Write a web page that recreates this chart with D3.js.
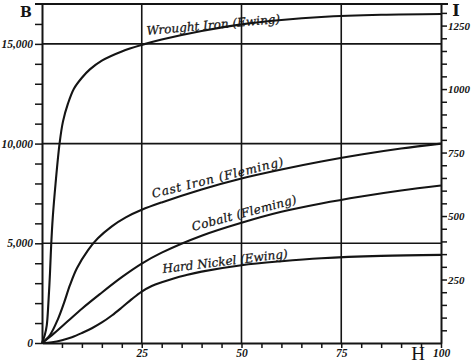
<!DOCTYPE html>
<html><head><meta charset="utf-8">
<script src="https://cdn.jsdelivr.net/npm/d3@7"></script>
<style>
html,body{margin:0;padding:0;background:#fff;}
svg{display:block;}
.tick text{font-family:"Liberation Serif",serif;font-weight:bold;font-style:italic;}
</style>
</head><body>
<svg id="c" width="474" height="364"></svg>
<script>
// ---- data (H in gilberts/cm, B in lines/cm²) ----
const wroughtIron = [[0,0],[0.7,400],[1.2,900],[1.6,2000],[2.0,3500],[2.3,4900],[2.7,6300],[3.4,8000],[4.4,10000],[5.25,11100],[6.5,12000],[8,12750],[10,13300],[12,13720],[15,14160],[20,14620],[25,14950],[30,15220],[40,15650],[50,15980],[60,16200],[70,16350],[85,16460],[100,16500]];
const castIron = [[0,0],[2,400],[4,1200],[5.5,2000],[7,2900],[8.75,3750],[11.5,4650],[14,5250],[17.5,5850],[21,6300],[25,6680],[30,7050],[40,7700],[50,8250],[60,8700],[70,9100],[80,9450],[90,9750],[100,10000]];
const cobalt = [[0,0],[3,480],[6.5,1100],[10,1720],[14.5,2450],[20,3300],[25,3980],[30,4530],[40,5380],[50,6030],[60,6580],[70,7000],[80,7350],[90,7650],[100,7900]];
const hardNickel = [[0,0],[2.5,40],[5,140],[7.5,290],[10,500],[12.5,740],[15,1030],[17.5,1380],[20,1780],[22.5,2200],[25,2580],[27.5,2860],[30,3050],[33,3240],[36,3400],[40,3580],[50,3900],[60,4100],[70,4250],[85,4370],[100,4420]];
const seriesNames = ["Wrought Iron (Ewing)","Cast Iron (Fleming)","Cobalt (Fleming)","Hard Nickel (Ewing)"];
const hTickLabels = [25,50,75,100];
const bTickLabels = [0,5000,10000,15000];
const iTickLabels = [250,500,750,1000,1250];
const hGrid = [25,50,75];
const bGrid = [5000,10000,15000];

const ink = "#141414";
const svg = d3.select("#c");
const L=42, R=441, T=4, Bt=343;
const x = d3.scaleLinear().domain([0,100]).range([L,R]);
const y = d3.scaleLinear().domain([0,17000]).range([Bt,T]);
const yI = d3.scaleLinear().domain([0,1335]).range([Bt,T]);

// grid
const g = svg.append("g").attr("stroke",ink).attr("stroke-width",1.6);
hGrid.forEach(v=>g.append("line").attr("x1",x(v)).attr("x2",x(v)).attr("y1",T).attr("y2",Bt));
bGrid.forEach(v=>g.append("line").attr("x1",L).attr("x2",R).attr("y1",y(v)).attr("y2",y(v)));
g.append("line").attr("x1",L-7).attr("x2",R+7).attr("y1",T).attr("y2",T).attr("stroke-width",1.8);

// axes
function styleAxis(sel){
  sel.select(".domain").attr("stroke",ink).attr("stroke-width",2);
  sel.selectAll(".tick line").attr("stroke",ink).attr("stroke-width",1.5);
  sel.selectAll(".tick text").attr("fill",ink);
}
const axL = d3.axisLeft(y).tickValues(d3.range(0,17000,1000)).tickSize(7).tickSizeOuter(0)
  .tickFormat(d=>bTickLabels.includes(d)?d3.format(",")(d):"");
svg.append("g").attr("transform",`translate(${L},0)`).call(axL).call(styleAxis)
  .selectAll(".tick text").attr("font-size",11.5).attr("dx",1);
const axB = d3.axisBottom(x).tickValues(d3.range(5,101,5)).tickSize(5).tickSizeOuter(0)
  .tickFormat(d=>hTickLabels.includes(d)?d:"");
svg.append("g").attr("transform",`translate(0,${Bt})`).call(axB).call(styleAxis)
  .selectAll(".tick text").attr("font-size",11.5).attr("dy","0.55em");
const axR = d3.axisRight(yI).tickValues(d3.range(50,1335,50)).tickSize(6).tickSizeOuter(0)
  .tickFormat(d=>iTickLabels.includes(d)?d:"");
svg.append("g").attr("transform",`translate(${R},0)`).call(axR).call(styleAxis)
  .selectAll(".tick text").attr("font-size",11).attr("dx",-2);

// curves
const line = d3.line().x(d=>x(d[0])).y(d=>y(d[1])).curve(d3.curveCatmullRom.alpha(0.5));
[wroughtIron,castIron,cobalt,hardNickel].forEach(s=>{
  svg.append("path").attr("d",line(s)).attr("fill","none").attr("stroke",ink).attr("stroke-width",2.1);
});

// curve labels
const labelPos = [[147,35,-5.2,134],[153,198,-14,135],[193,231,-15,108],[163,273,-7,126]];
seriesNames.forEach((n,i)=>{
  const p = labelPos[i];
  svg.append("text").attr("transform",`translate(${p[0]},${p[1]}) rotate(${p[2]})`)
    .attr("font-family","DejaVu Serif, serif").attr("font-style","italic").attr("font-size",12)
    .attr("textLength",p[3]).attr("lengthAdjust","spacing")
    .attr("fill",ink).attr("stroke",ink).attr("stroke-width",0.25).text(n);
});

// axis titles
svg.append("text").attr("x",26).attr("y",17).attr("text-anchor","middle")
  .attr("font-family","DejaVu Serif, serif").attr("font-weight","bold").attr("font-size",14).attr("fill",ink).text("B");
svg.append("text").attr("x",456).attr("y",16).attr("text-anchor","middle")
  .attr("font-family","DejaVu Serif, serif").attr("font-weight","bold").attr("font-size",16).attr("fill",ink).text("I");
svg.append("text").attr("x",418).attr("y",360).attr("text-anchor","middle")
  .attr("font-family","Liberation Serif, serif").attr("font-size",19).attr("fill",ink).text("H");
</script>
</body></html>
